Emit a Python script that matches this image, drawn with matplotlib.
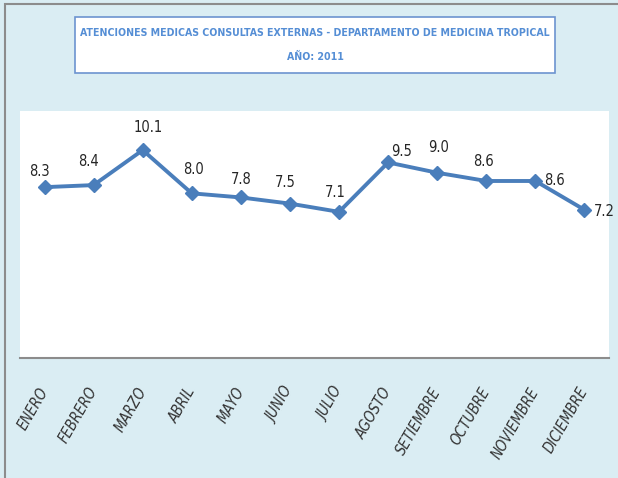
import matplotlib
matplotlib.use("Agg")
import matplotlib.pyplot as plt
from matplotlib.patches import Rectangle

meses = ["ENERO", "FEBRERO", "MARZO", "ABRIL", "MAYO", "JUNIO", "JULIO",
         "AGOSTO", "SETIEMBRE", "OCTUBRE", "NOVIEMBRE", "DICIEMBRE"]
atenciones = [8.3, 8.4, 10.1, 8.0, 7.8, 7.5, 7.1, 9.5, 9.0, 8.6, 8.6, 7.2]

# label offsets in points (dx, dy)
offsets = [(-4, 11), (-4, 17), (4, 16), (1, 17), (0, 13), (-3, 15), (-3, 14),
           (10, 8), (1, 18), (-2, 14), (14, 0), (14, -1)]

fam = ["DejaVu Sans"]
bg = "#daedf3"

fig = plt.figure(figsize=(6.18, 4.78), dpi=100)
fig.patch.set_facecolor(bg)

# outer frame (only left and top edges show)
fig.patches.append(Rectangle((5 / 618, -0.1), 1.2, 1 - 4 / 478 + 0.1,
                             transform=fig.transFigure, fill=False,
                             edgecolor="#8c8c8c", lw=1.5))

# title box
fig.patches.append(Rectangle((75 / 618, 1 - 73 / 478), 480 / 618, 56 / 478,
                             transform=fig.transFigure, facecolor="white",
                             edgecolor="#6c94d0", lw=1.2))
fig.text(315 / 618, 1 - 33 / 478,
         "ATENCIONES MEDICAS CONSULTAS EXTERNAS - DEPARTAMENTO DE MEDICINA TROPICAL",
         ha="center", va="center", color="#558ed5", fontsize=7.6,
         fontweight="bold", family=fam, fontstretch="condensed")
fig.text(315 / 618, 1 - 57 / 478, "AÑO: 2011", ha="center", va="center",
         color="#558ed5", fontsize=7.6, fontweight="bold", family=fam,
         fontstretch="condensed")

ax = fig.add_axes([20 / 618, 1 - 358 / 478, 589 / 618, 247 / 478])
ax.set_facecolor("white")
x = list(range(len(meses)))
ax.plot(x, atenciones, color="#4a7ebb", lw=2.8, marker="D", markersize=7,
        markerfacecolor="#4a7ebb", markeredgecolor="#4a7ebb")
for i, v in enumerate(atenciones):
    dx, dy = offsets[i]
    ax.annotate(f"{v:.1f}", (i, v), xytext=(dx, dy), textcoords="offset points",
                ha="center", va="center", fontsize=10.5, color="#262626",
                family=fam, fontstretch="condensed")

ax.set_xlim(-0.5, len(meses) - 0.5)
ax.set_ylim(0, 12)
ax.set_yticks([])
ax.set_xticks(x)
ax.set_xticklabels(meses, rotation=60, ha="right", va="center",
                   rotation_mode="anchor", fontsize=10.5, style="italic",
                   family=fam, fontstretch="condensed", color="#333333")
ax.tick_params(axis="x", length=0, pad=22)
for s in ["top", "right", "left"]:
    ax.spines[s].set_visible(False)
ax.spines["bottom"].set_color("#8c8c8c")
ax.spines["bottom"].set_linewidth(1.5)

fig.savefig("out.png", dpi=100, facecolor=bg)
